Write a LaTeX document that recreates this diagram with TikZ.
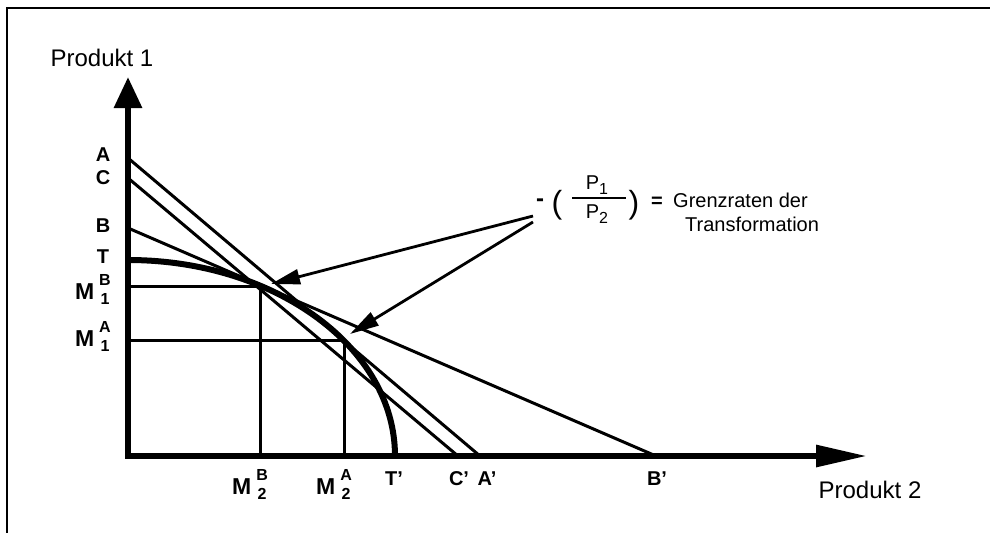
\documentclass[tikz,border=0pt]{standalone}
\usepackage{fontspec}
\setmainfont{Liberation Sans}
\usetikzlibrary{arrows.meta}
\newcommand{\fs}[1]{\fontsize{#1}{#1}\selectfont}
\newcommand{\Mlab}[2]{M\hspace{5pt}\raisebox{3pt}{\fs{16}\begin{tabular}{@{}c@{}}#1\\[3pt]#2\end{tabular}}}
\newcommand{\Psub}[1]{P\raisebox{-5pt}{\fs{16}#1}}
\tikzset{
  frame/.style={line width=2pt},
  axis/.style={line width=6pt, line join=miter,
    {Triangle[length=31pt,width=27pt]}-{Triangle[length=51pt,width=21pt]}},
  curve/.style={line width=6pt},
  budget/.style={line width=3pt},
  guide/.style={line width=3pt},
  pointer/.style={line width=2.8pt, -{Triangle[length=29pt,width=15pt]}},
  fracbar/.style={line width=2.8pt},
  axislabel/.style={inner sep=0pt, font=\fs{24}},
  ticklabel/.style={inner sep=0pt, font=\fs{20}\bfseries},
  mlabel/.style={inner sep=0pt, font=\fs{23}\bfseries},
  formula/.style={inner sep=0pt, font=\fs{20}},
}
\begin{document}
\begin{tikzpicture}[x=1pt, y=-1pt]
  \useasboundingbox (0,0) rectangle (990,533);

  % frame
  \coordinate (fTR) at (990,8);
  \coordinate (fTL) at (7,8);
  \coordinate (fBL) at (7,533);
  \draw[frame] (fTR) -- (fTL) -- (fBL);

  % points on the axes and the curve
  \coordinate (O) at (128,456);
  \coordinate (ytip) at (128,77);
  \coordinate (xtip) at (867,456);
  \coordinate (A) at (128,158);
  \coordinate (C) at (128,178);
  \coordinate (B) at (128,228);
  \coordinate (T) at (128,260);
  \coordinate (Ap) at (480,456);
  \coordinate (Cp) at (458,456);
  \coordinate (Bp) at (656,456);
  \coordinate (Tp) at (395,456);
  \coordinate (MB) at (260,286);
  \coordinate (MA) at (344,340);

  \draw[guide] (O |- MB) -- (MB) -- (MB |- O);
  \draw[guide] (O |- MA) -- (MA) -- (MA |- O);

  \draw[budget] (A) -- (Ap);
  \draw[budget] (C) -- (Cp);
  \draw[budget] (B) -- (Bp);

  \draw[curve] (Tp) arc[start angle=0, end angle=-90, x radius=267, y radius=196];

  \draw[axis] (ytip) -- (O) -- (xtip);

  % axis texts
  \node[axislabel] (prod1) at (102,58) {Produkt 1};
  \node[axislabel] (prod2) at (870,490) {Produkt 2};

  \node[ticklabel] (lA) at (103,155) {A};
  \node[ticklabel] (lC) at (103,178) {C};
  \node[ticklabel] (lB) at (103,226) {B};
  \node[ticklabel] (lT) at (103,257) {T};
  \node[ticklabel] (lTp) at (394,479) {T'};
  \node[ticklabel] (lCp) at (459,479) {C'};
  \node[ticklabel] (lAp) at (487,479) {A'};
  \node[ticklabel] (lBp) at (657,479) {B'};

  \node[mlabel, anchor=east] (lMB1) at (111,292) {\Mlab{B}{1}};
  \node[mlabel, anchor=east] (lMA1) at (111,339) {\Mlab{A}{1}};
  \node[mlabel, anchor=west] (lMB2) at (232,487) {\Mlab{B}{2}};
  \node[mlabel, anchor=west] (lMA2) at (316,487) {\Mlab{A}{2}};

  % formula
  \node[formula, font=\fs{24}\bfseries] (minus) at (540,203) {-};
  \node[formula, font=\fs{32}] (lpar) at (557,205) {(};
  \node[formula, anchor=base] (P1) at (597,189) {\Psub{1}};
  \node[formula, anchor=base] (P2) at (597,218) {\Psub{2}};
  \coordinate (barL) at (572,198);
  \coordinate (barR) at (626,198);
  \draw[fracbar] (barL) -- (barR);
  \node[formula, font=\fs{32}] (rpar) at (634,205) {)};
  \node[formula, font=\fs{20}\bfseries] (eq) at (657,202) {=};
  \node[formula, anchor=west] (grenz) at (673,200) {Grenzraten der};
  \node[formula, anchor=west] (trans) at (685,224) {Transformation};

  \coordinate (ptrB) at (533,216);
  \coordinate (ptrA) at (533,222);
  \coordinate (tipB) at (271,284);
  \coordinate (tipA) at (350,334);
  \draw[pointer] (ptrB) -- (tipB);
  \draw[pointer] (ptrA) -- (tipA);
\end{tikzpicture}
\end{document}
